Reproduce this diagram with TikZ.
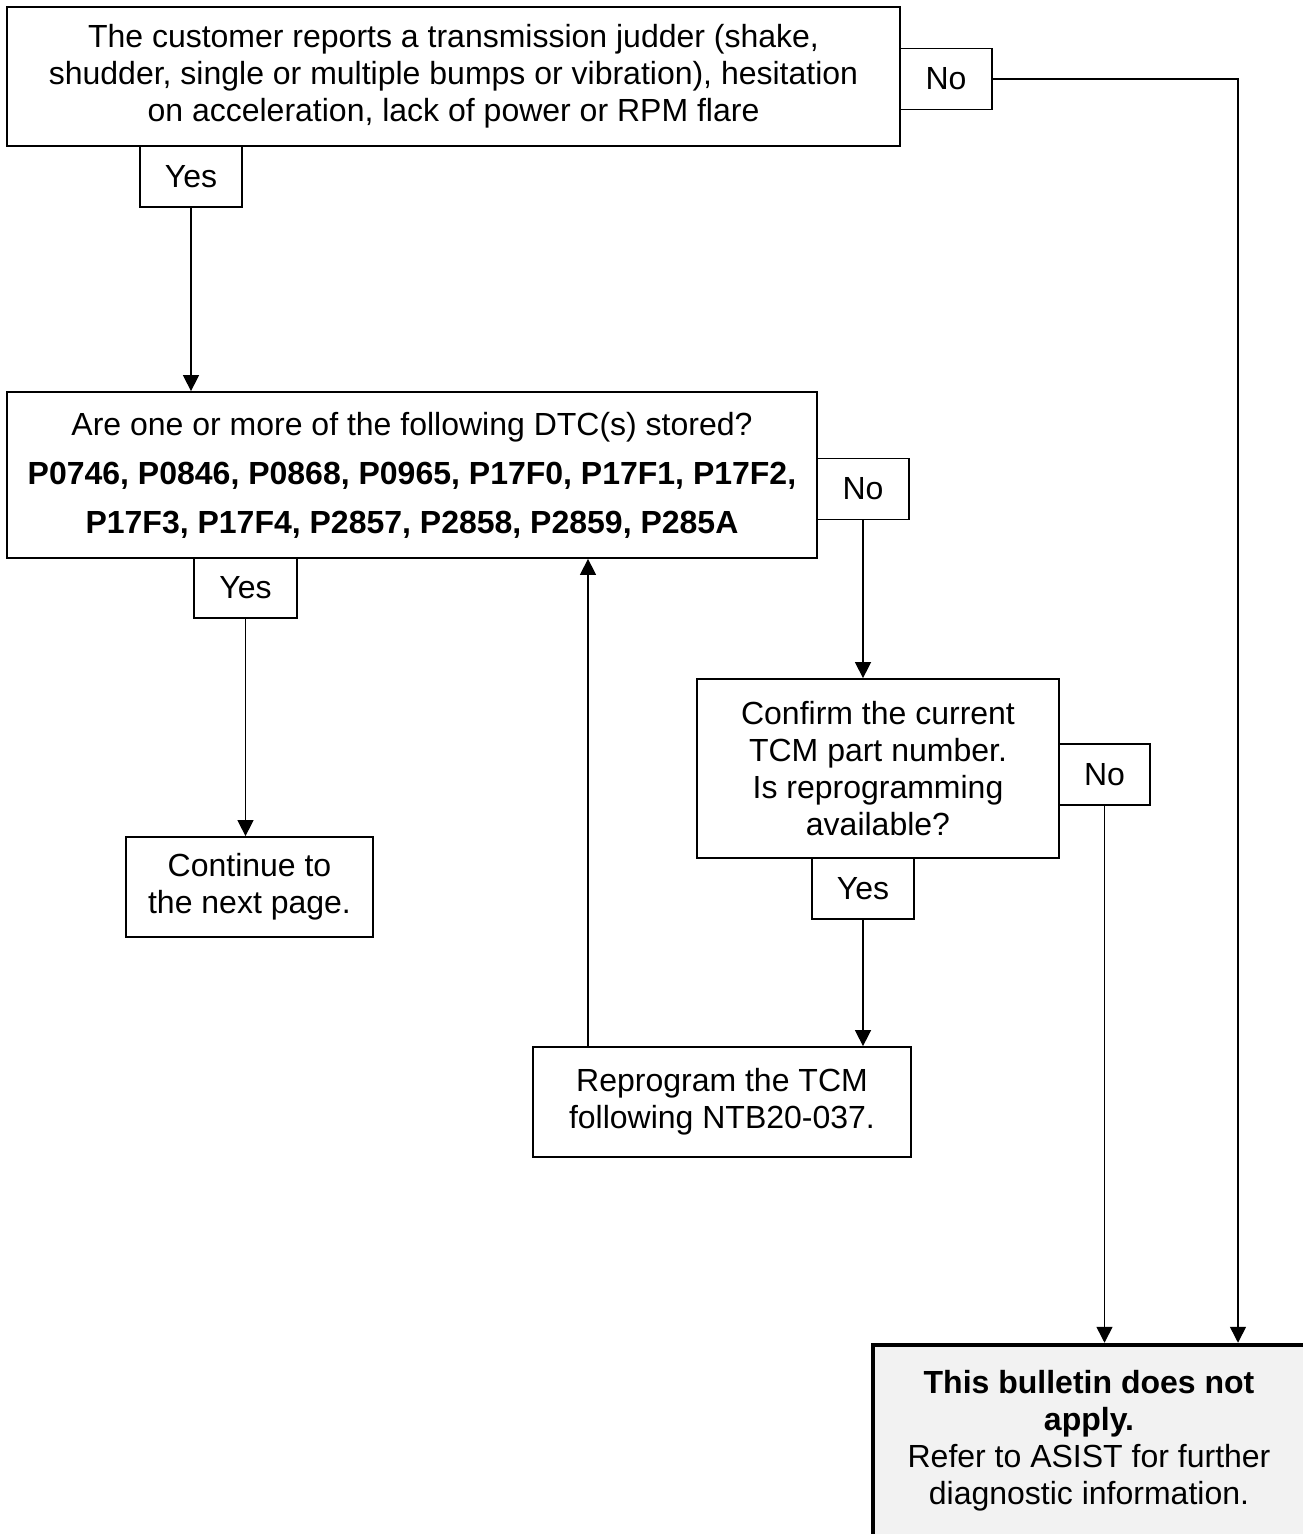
\documentclass[tikz,border=0pt]{standalone}
\usepackage{fontspec}
\setmainfont{Liberation Sans}
\usetikzlibrary{arrows.meta}
\definecolor{fingrey}{HTML}{F2F2F2}
\begin{document}
\begin{tikzpicture}[x=1pt,y=-1pt,
  box/.style={draw, line width=1.8pt, rectangle, inner sep=0pt, align=center,
    font=\fontsize{32}{37}\selectfont},
  lbl/.style={box, minimum height=61pt},
  arr/.style={line width=1.5pt, -{Triangle[length=16pt,width=16pt]}},
  ]
\fill[white] (0,0) rectangle (1302,1534);
\useasboundingbox (0,0) rectangle (1302,1534);

% main boxes
\node[box, minimum width=893pt, minimum height=139pt] (top) at (453.5,76.5)
  {The customer reports a transmission judder (shake,\\
   shudder, single or multiple bumps or vibration), hesitation\\
   on acceleration, lack of power or RPM flare};
\node[box, minimum width=810pt, minimum height=166pt,
      font=\fontsize{32}{49}\selectfont] (dtc) at (412,475)
  {Are one or more of the following DTC(s) stored?\\
   \textbf{P0746, P0846, P0868, P0965, P17F0, P17F1, P17F2,}\\
   \textbf{P17F3, P17F4, P2857, P2858, P2859, P285A}};
\node[box, minimum width=247pt, minimum height=100pt] (cont) at (249.5,887)
  {Continue to\\ the next page.};
\node[box, minimum width=362pt, minimum height=179pt] (tcm) at (878,768.5)
  {Confirm the current\\ TCM part number.\\ Is reprogramming\\ available?};
\node[box, minimum width=378pt, minimum height=110pt] (rep) at (722,1102)
  {Reprogram the TCM\\ following NTB20-037.};
\node[box, line width=4.5pt, fill=fingrey, minimum width=432pt, minimum height=192pt] (fin) at (1089,1441)
  {\textbf{This bulletin does not}\\ \textbf{apply.}\\ Refer to ASIST for further\\ diagnostic information.};

% labels
\node[lbl, minimum width=102pt] (yes1) at (191,176.5) {Yes};
\node[lbl, minimum width=92pt] (no1) at (946,79) {No};
\node[lbl, minimum width=92pt] (no2) at (863,489) {No};
\node[lbl, minimum width=103pt, minimum height=60pt] (yes2) at (245.5,588) {Yes};
\node[lbl, minimum width=91pt] (no3) at (1104.5,774.5) {No};
\node[lbl, minimum width=102pt] (yes3) at (863,888.5) {Yes};

% connectors
\coordinate (c1) at (1238,79);
\coordinate (up) at (588,0);
\draw[arr] (yes1.south) -- (yes1.south |- dtc.north);
\draw[arr] (no1.east) -- (c1) -- (c1 |- fin.north);
\draw[arr] (no2.south) -- (no2.south |- tcm.north);
\draw[arr] (yes2.south) -- (yes2.south |- cont.north);
\draw[arr] (yes3.south) -- (yes3.south |- rep.north);
\draw[arr] (up |- rep.north) -- (up |- dtc.south);
\draw[arr] (no3.south) -- (no3.south |- fin.north);
\end{tikzpicture}
\end{document}
